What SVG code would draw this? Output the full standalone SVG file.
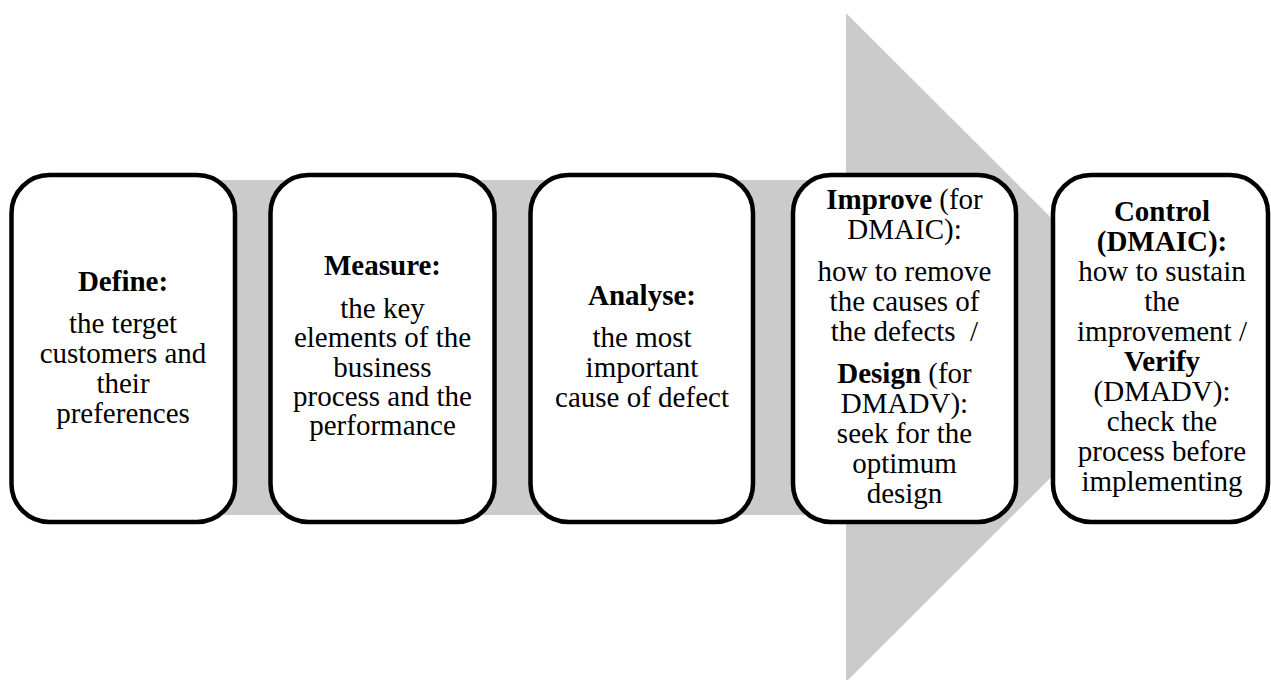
<svg xmlns="http://www.w3.org/2000/svg" width="1271" height="680" viewBox="0 0 1271 680">
<style>
.box{fill:#ffffff;stroke:#000000;stroke-width:4.5}
.t text{font-size:29px;fill:#000000;text-anchor:middle}
.b{font-weight:bold}
</style>
<rect width="1271" height="680" fill="#ffffff"/>
<g id="connectors">
<polygon points="40,180 846,180 846,13 1181,347.5 846,682 846,515 40,515" fill="#cbcbcb"/>
</g>
<g class="t" font-family="Liberation Serif, Times New Roman, DejaVu Serif, serif">
<g id="define">
<rect class="box" x="11.5" y="175" width="223.5" height="347" rx="38" ry="38"/>
<text x="123" y="291" class="b">Define:</text>
<text x="123" y="333">the terget</text>
<text x="123" y="363">customers and</text>
<text x="123" y="393">their</text>
<text x="123" y="423">preferences</text>
</g>
<g id="measure">
<rect class="box" x="270.5" y="175" width="224" height="347" rx="38" ry="38"/>
<text x="382.5" y="275" class="b">Measure:</text>
<text x="382.5" y="318">the key</text>
<text x="382.5" y="347">elements of the</text>
<text x="382.5" y="377">business</text>
<text x="382.5" y="406">process and the</text>
<text x="382.5" y="435">performance</text>
</g>
<g id="analyse">
<rect class="box" x="530.5" y="175" width="222.5" height="347" rx="38" ry="38"/>
<text x="642" y="305" class="b">Analyse:</text>
<text x="642" y="347">the most</text>
<text x="642" y="377">important</text>
<text x="642" y="407">cause of defect</text>
</g>
<g id="improve">
<rect class="box" x="793" y="175" width="223" height="347" rx="38" ry="38"/>
<text x="904.5" y="209"><tspan class="b">Improve</tspan> (for</text>
<text x="904.5" y="239">DMAIC):</text>
<text x="904.5" y="281">how to remove</text>
<text x="904.5" y="311">the causes of</text>
<text x="904.5" y="341" xml:space="preserve">the defects  /</text>
<text x="904.5" y="383"><tspan class="b">Design</tspan> (for</text>
<text x="904.5" y="413">DMADV):</text>
<text x="904.5" y="443">seek for the</text>
<text x="904.5" y="473">optimum</text>
<text x="904.5" y="503">design</text>
</g>
<g id="control">
<rect class="box" x="1053" y="175" width="215" height="347" rx="38" ry="38"/>
<text x="1162" y="221" class="b">Control</text>
<text x="1162" y="251" class="b">(DMAIC):</text>
<text x="1162" y="281">how to sustain</text>
<text x="1162" y="311">the</text>
<text x="1162" y="341">improvement /</text>
<text x="1162" y="371" class="b">Verify</text>
<text x="1162" y="401">(DMADV):</text>
<text x="1162" y="431">check the</text>
<text x="1162" y="461">process before</text>
<text x="1162" y="491">implementing</text>
</g>
</g>
</svg>
